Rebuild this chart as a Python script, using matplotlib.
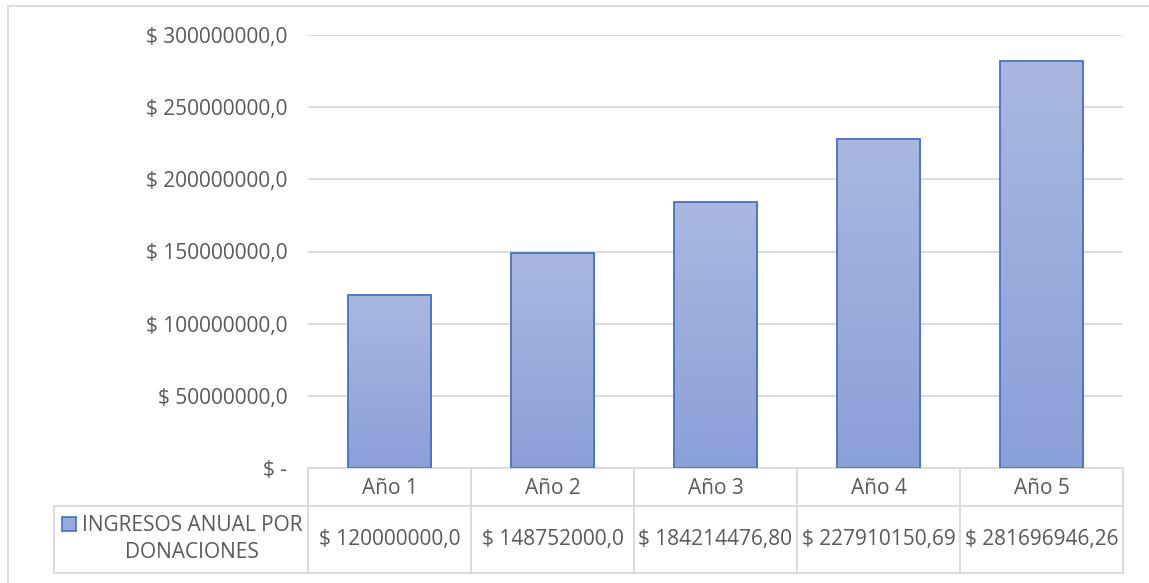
import numpy as np
import matplotlib.pyplot as plt
from matplotlib.lines import Line2D
from matplotlib.patches import Rectangle
from matplotlib.colors import LinearSegmentedColormap

# data
years = ['Año 1', 'Año 2', 'Año 3', 'Año 4', 'Año 5']
ingresos = [120000000.0, 148752000.0, 184214476.80, 227910150.69, 281696946.26]
table_labels = ['$ 120000000,0', '$ 148752000,0', '$ 184214476,80', '$ 227910150,69', '$ 281696946,26']
series_name = 'INGRESOS ANUAL POR\nDONACIONES'
yticks = [0, 50000000, 100000000, 150000000, 200000000, 250000000, 300000000]

txt = '#595959'
grid = '#d9d9d9'
edge = '#4472c4'
fs = 15
plt.rcParams['font.family'] = ['Open Sans', 'DejaVu Sans']

W, H = 1149, 583
fig = plt.figure(figsize=(W / 100, H / 100), dpi=100)
fig.patch.set_facecolor('white')

# chart border
fig.add_artist(Rectangle((8 / W, -0.1), 1.2, (H - 6) / H + 0.1, transform=fig.transFigure,
                         fill=False, ec=grid, lw=1.3))

ax = fig.add_axes([308 / W, (H - 468) / H, (1123 - 308) / W, (468 - 35) / H])
x = np.arange(len(years))
bars = ax.bar(x, ingresos, width=0.51, color='none', edgecolor=edge, linewidth=1.3, zorder=3)

# vertical gradient fill inside each bar
grad = np.linspace(0, 1, 256).reshape(-1, 1)
cmap = LinearSegmentedColormap.from_list('g', ['#8aa0d8', '#aab8e0'])
for b in bars:
    im = ax.imshow(grad, cmap=cmap, aspect='auto', origin='lower',
                   extent=[b.get_x(), b.get_x() + b.get_width(), 0, b.get_height()], zorder=2)
    im.set_clip_path(b)

ax.set_xlim(-0.5, len(years) - 0.5)
ax.set_ylim(0, 300000000)
ax.set_yticks(yticks)
ax.set_yticklabels(['$ -' if v == 0 else '$ %d,0' % v for v in yticks])
ax.tick_params(axis='y', length=0, labelsize=fs, labelcolor=txt, pad=15)
ax.set_xticks([])
ax.grid(axis='y', color=grid, lw=1.3, zorder=0)
for s in ax.spines.values():
    s.set_visible(False)

# data table below the axes (pixel -> axis helpers)
cell = (1123 - 308) / len(years)
px = lambda p: -0.5 + (p - 308) / cell
py = lambda p: -(p - 468) / (468 - 35)
tr = ax.get_xaxis_transform()
r1, r2 = py(506), py(573)
left = px(54)
kw = dict(transform=tr, color=grid, lw=1.3, clip_on=False)
ax.add_line(Line2D([-0.5, len(years) - 0.5], [0, 0], **kw))
ax.add_line(Line2D([left, len(years) - 0.5], [r1, r1], **kw))
ax.add_line(Line2D([left, len(years) - 0.5], [r2, r2], **kw))
ax.add_line(Line2D([left, left], [r1, r2], **kw))
for i in range(len(years) + 1):
    ax.add_line(Line2D([i - 0.5, i - 0.5], [0, r2], **kw))
for i, (yr, lab) in enumerate(zip(years, table_labels)):
    ax.text(i, py(489), yr, transform=tr, ha='center', va='center', fontsize=fs, color=txt)
    ax.text(i, py(539), lab, transform=tr, ha='center', va='center', fontsize=fs, color=txt)

# legend key and series name
ax.add_patch(Rectangle((px(62), py(531)), px(76) - px(62), py(517) - py(531), transform=tr,
                       clip_on=False, fc='#98aadc', ec=edge, lw=1.2))
ax.text(px(192), py(539), series_name, transform=tr, ha='center', va='center',
        fontsize=fs, color=txt, linespacing=1.4)

fig.savefig('out.png', dpi=100)
